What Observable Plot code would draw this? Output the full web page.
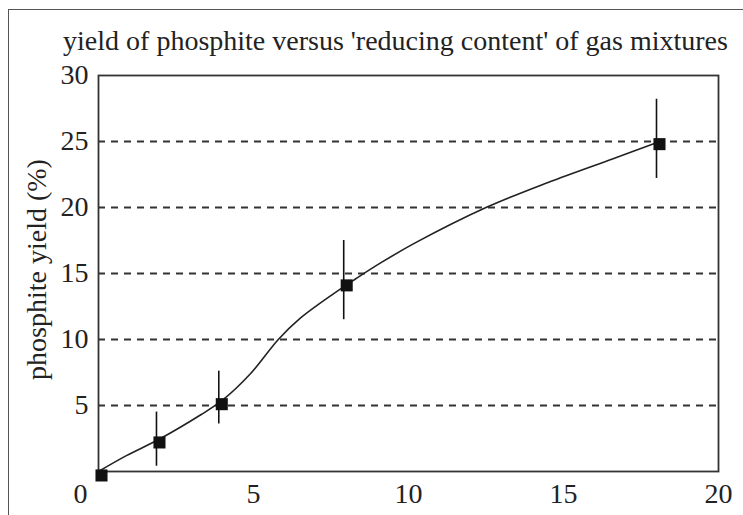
<!DOCTYPE html>
<html>
<head>
<meta charset="utf-8">
<script src="https://cdn.jsdelivr.net/npm/d3@7"></script>
<script src="https://cdn.jsdelivr.net/npm/@observablehq/plot@0.6"></script>
<style>
  html, body { margin: 0; padding: 0; background: #fff; }
  #wrap { position: relative; width: 743px; height: 515px; overflow: hidden; }
  #border { position: absolute; left: 8px; top: 9px; width: 800px; height: 600px;
            border-left: 1.5px solid #555; border-top: 1.5px solid #555; }
  #chart { position: absolute; left: 0; top: 0; }
  #chart svg text { font-family: "Liberation Serif", "Times New Roman", serif; }
</style>
</head>
<body>
<div id="wrap"><div id="border"></div><div id="chart"></div></div>
<script>
const title = "yield of phosphite versus 'reducing content' of gas mixtures";
const yLabel = "phosphite yield (%)";

// measured points
const pointX = [0, 1.87, 3.88, 7.91, 18.0];
const pointY = [-0.3, 2.2, 5.1, 14.1, 24.8];
const errLow = [null, 0.4, 3.6, 11.5, 22.2];
const errHigh = [null, 4.5, 7.6, 17.5, 28.2];

// fitted curve
const curveX = [0, 0.9, 2.0, 3.3, 4.0, 4.9, 5.8, 6.5, 7.6, 8.3, 9.1, 10.2, 12.5, 14.5, 16.6, 18.0];
const curveY = [0, 1.2, 2.5, 4.3, 5.4, 7.4, 10.0, 11.6, 13.5, 14.6, 15.8, 17.3, 20.0, 21.9, 23.7, 24.9];

const xTicks = [5, 10, 15, 20];
const yTicks = [5, 10, 15, 20, 25, 30];
const gridY = [5, 10, 15, 20, 25];

const points = pointX.map((x, i) => ({x, y: pointY[i], lo: errLow[i], hi: errHigh[i]}));
const bars = points.filter(d => d.lo != null);
const curve = curveX.map((x, i) => ({x, y: curveY[i]}));

const font = "'Liberation Serif', 'Times New Roman', serif";

const plot = Plot.plot({
  width: 743,
  height: 515,
  marginLeft: 98,
  marginRight: 25,
  marginTop: 75,
  marginBottom: 44,
  style: {fontFamily: font, fontSize: "28px", background: "transparent", color: "#222"},
  x: {domain: [0, 20]},
  y: {domain: [0, 30]},
  marks: [
    Plot.ruleY(gridY, {stroke: "#333", strokeWidth: 1.8, strokeDasharray: "7,6"}),
    Plot.frame({stroke: "#333", strokeWidth: 1.8}),
    Plot.axisX({ticks: xTicks, tickSize: 0, tickPadding: 12, label: null, fontSize: 28, fontFamily: font}),
    Plot.text([0], {x: d => d, y: 0, text: d => String(d), lineAnchor: "top", dy: 12, dx: -18, fontSize: 28, fontFamily: font, fill: "#222"}),
    Plot.axisY({ticks: yTicks, tickSize: 0, tickPadding: 10, label: null, fontSize: 28, fontFamily: font}),
    Plot.text([yLabel], {frameAnchor: "left", textAnchor: "middle", rotate: -90, dx: -61, dy: -4, fontSize: 28, fontFamily: font, fill: "#222"}),
    Plot.text([title], {frameAnchor: "top", lineAnchor: "bottom", dy: -26, dx: -13, fontSize: 28, fontFamily: font, fill: "#222"}),
    Plot.line(curve, {x: "x", y: "y", curve: "catmull-rom", stroke: "#222", strokeWidth: 1.6}),
    Plot.ruleX(bars, {x: "x", y1: "lo", y2: "hi", stroke: "#111", strokeWidth: 1.6}),
    Plot.dot(points, {x: "x", y: "y", symbol: "square", r: 6.8, fill: "#111", stroke: "none", dx: 3})
  ]
});
document.getElementById("chart").appendChild(plot);
</script>
</body>
</html>
